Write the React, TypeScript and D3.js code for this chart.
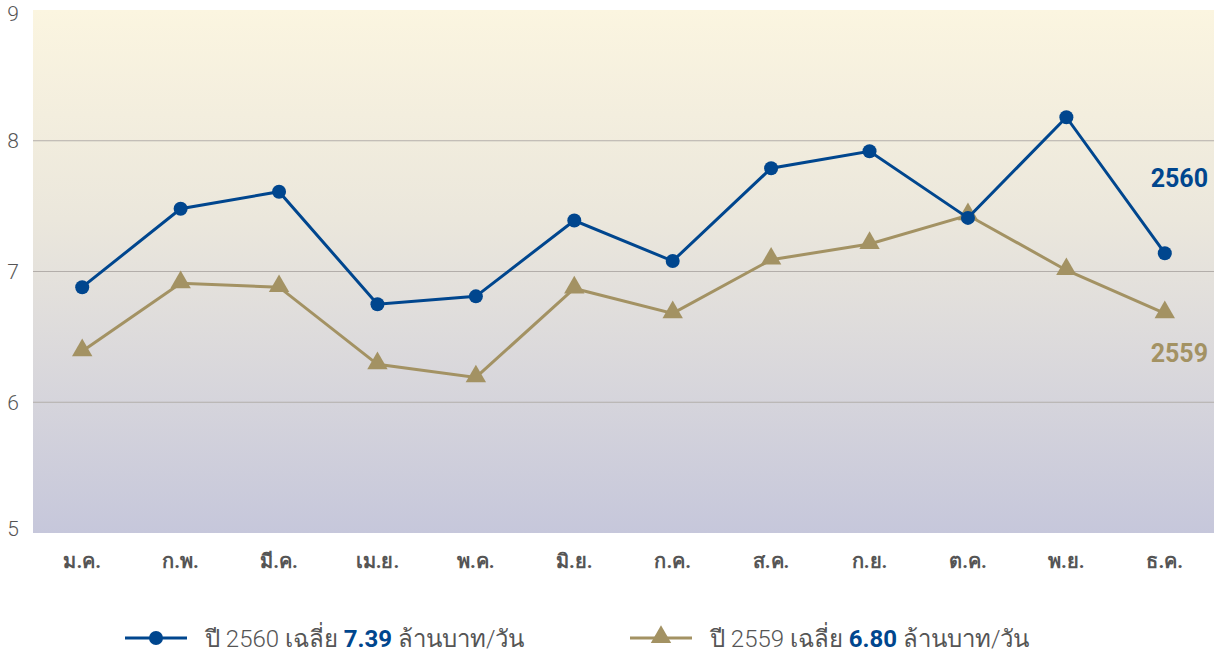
import { useEffect, useRef } from "react";
import * as d3 from "d3";

const months = ["ม.ค.", "ก.พ.", "มี.ค.", "เม.ย.", "พ.ค.", "มิ.ย.", "ก.ค.", "ส.ค.", "ก.ย.", "ต.ค.", "พ.ย.", "ธ.ค."];
const values2560 = [6.88, 7.48, 7.61, 6.75, 6.81, 7.39, 7.08, 7.79, 7.92, 7.41, 8.18, 7.14];
const values2559 = [6.39, 6.91, 6.88, 6.29, 6.19, 6.87, 6.68, 7.09, 7.21, 7.43, 7.01, 6.68];
const yTicks = [5, 6, 7, 8, 9];
const avg2560 = "7.39";
const avg2559 = "6.80";

const BLUE = "#00468e";
const GOLD = "#a39263";
const FONT = "Roboto, 'Noto Sans', 'DejaVu Sans', sans-serif";

export default function App() {
  const svgRef = useRef<SVGSVGElement>(null);

  useEffect(() => {
    if (!svgRef.current) return;
    const svg = d3.select(svgRef.current);
    svg.selectAll("*").remove();

    const plot = { left: 33, right: 1214, top: 10, bottom: 533 };

    const x = d3.scaleBand<string>().domain(months).range([plot.left, plot.right]);
    const cx = (m: string) => (x(m) ?? 0) + x.bandwidth() / 2;
    const y = d3.scaleLinear().domain([5, 9]).range([plot.bottom, plot.top]);

    // background gradient
    const defs = svg.append("defs");
    const grad = defs
      .append("linearGradient")
      .attr("id", "bg")
      .attr("x1", 0)
      .attr("y1", 0)
      .attr("x2", 0)
      .attr("y2", 1);
    grad.append("stop").attr("offset", "0%").attr("stop-color", "#fbf5e0");
    grad.append("stop").attr("offset", "40%").attr("stop-color", "#ebe7dc");
    grad.append("stop").attr("offset", "100%").attr("stop-color", "#c6c7db");

    svg
      .append("rect")
      .attr("x", plot.left)
      .attr("y", plot.top)
      .attr("width", plot.right - plot.left)
      .attr("height", plot.bottom - plot.top)
      .attr("fill", "url(#bg)");

    // gridlines
    svg
      .append("g")
      .selectAll("line")
      .data(yTicks.filter((t) => t > 5 && t < 9))
      .join("line")
      .attr("x1", plot.left)
      .attr("x2", plot.right)
      .attr("y1", (d) => y(d))
      .attr("y2", (d) => y(d))
      .attr("stroke", "#b3aeaa")
      .attr("stroke-width", 1);

    // y tick labels
    svg
      .append("g")
      .selectAll("text")
      .data(yTicks)
      .join("text")
      .attr("x", 13)
      .attr("y", (d) => y(d) + (d === 9 ? 5 : d === 5 ? -3 : 2))
      .attr("text-anchor", "middle")
      .attr("dominant-baseline", "middle")
      .attr("font-family", FONT)
      .attr("font-size", 21)
      .attr("font-weight", 300)
      .attr("fill", "#555")
      .text((d) => d);

    // month labels
    svg
      .append("g")
      .selectAll("text")
      .data(months)
      .join("text")
      .attr("x", (d) => cx(d))
      .attr("y", 568)
      .attr("text-anchor", "middle")
      .attr("font-family", FONT)
      .attr("font-size", 20)
      .attr("font-weight", "bold")
      .attr("fill", "#555")
      .text((d) => d);

    const line = d3
      .line<number>()
      .x((_, i) => cx(months[i]))
      .y((d) => y(d));

    const triangle = d3.symbol().type(d3.symbolTriangle).size(180);

    // 2559 series
    svg
      .append("path")
      .datum(values2559)
      .attr("d", line)
      .attr("fill", "none")
      .attr("stroke", GOLD)
      .attr("stroke-width", 3);
    svg
      .append("g")
      .selectAll("path")
      .data(values2559)
      .join("path")
      .attr("d", triangle)
      .attr("transform", (d, i) => `translate(${cx(months[i])},${y(d) - 1})`)
      .attr("fill", GOLD);

    // 2560 series
    svg
      .append("path")
      .datum(values2560)
      .attr("d", line)
      .attr("fill", "none")
      .attr("stroke", BLUE)
      .attr("stroke-width", 3);
    svg
      .append("g")
      .selectAll("circle")
      .data(values2560)
      .join("circle")
      .attr("cx", (_, i) => cx(months[i]))
      .attr("cy", (d) => y(d))
      .attr("r", 7)
      .attr("fill", BLUE);

    // end labels
    svg
      .append("text")
      .attr("x", 1208)
      .attr("y", 187)
      .attr("text-anchor", "end")
      .attr("font-family", FONT)
      .attr("font-size", 25)
      .attr("font-weight", "bold")
      .attr("fill", BLUE)
      .text("2560");
    svg
      .append("text")
      .attr("x", 1208)
      .attr("y", 362)
      .attr("text-anchor", "end")
      .attr("font-family", FONT)
      .attr("font-size", 25)
      .attr("font-weight", "bold")
      .attr("fill", GOLD)
      .text("2559");

    // legend
    const legendItems = [
      { x: 125, color: BLUE, marker: "circle", year: "2560", avg: avg2560 },
      { x: 630, color: GOLD, marker: "triangle", year: "2559", avg: avg2559 },
    ];
    legendItems.forEach((item) => {
      const g = svg.append("g").attr("transform", `translate(${item.x},638)`);
      g.append("line")
        .attr("x1", 0)
        .attr("x2", 62)
        .attr("y1", 0)
        .attr("y2", 0)
        .attr("stroke", item.color)
        .attr("stroke-width", 3);
      if (item.marker === "circle") {
        g.append("circle").attr("cx", 31).attr("cy", 0).attr("r", 7).attr("fill", item.color);
      } else {
        g.append("path")
          .attr("d", triangle)
          .attr("transform", "translate(31,-1)")
          .attr("fill", item.color);
      }
      const t = g
        .append("text")
        .attr("x", 80)
        .attr("y", 9)
        .attr("font-family", FONT)
        .attr("font-size", 24)
        .attr("font-weight", 300)
        .attr("fill", "#555");
      t.append("tspan").text(`ปี ${item.year} เฉลี่ย `);
      t.append("tspan").attr("font-weight", "bold").attr("fill", BLUE).text(item.avg);
      t.append("tspan").text(" ล้านบาท/วัน");
    });
  }, []);

  return (
    <svg
      ref={svgRef}
      width={1222}
      height={655}
      style={{ position: "absolute", left: 0, top: 0, background: "#fff" }}
    />
  );
}
